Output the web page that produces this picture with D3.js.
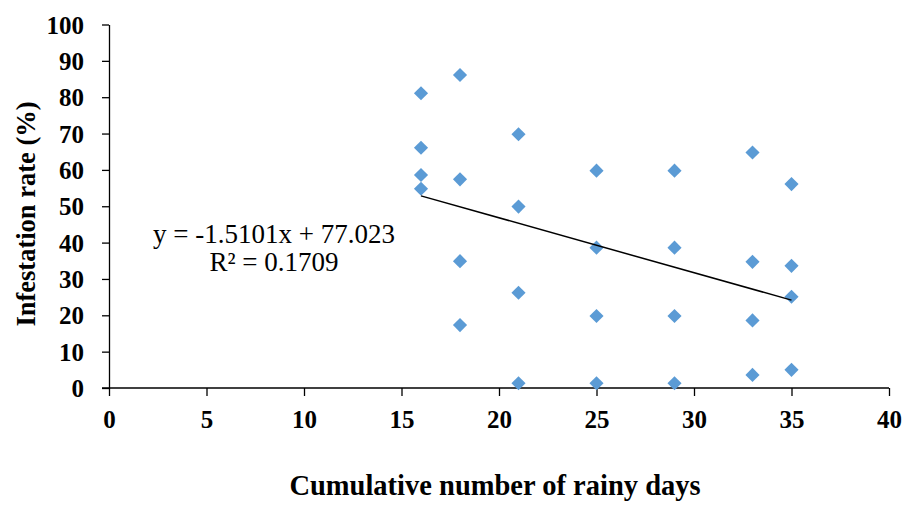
<!DOCTYPE html>
<html>
<head>
<meta charset="utf-8">
<script src="https://cdn.jsdelivr.net/npm/d3@7"></script>
<style>
  body { margin: 0; background: #fff; }
  svg { display: block; font-family: "Liberation Serif", "Times New Roman", serif; }
</style>
</head>
<body>
<svg width="903" height="505"></svg>
<script>
// rainy days (x) and infestation rate (y)
const rainyDays = [16, 16, 16, 16, 18, 18, 18, 18, 21, 21, 21, 21, 25, 25, 25, 25,
                   29, 29, 29, 29, 33, 33, 33, 33, 35, 35, 35, 35];
const infestation = [81.1, 66.1, 58.6, 54.8, 86.1, 57.4, 34.9, 17.3, 69.8, 49.9, 26.2, 1.3,
                     59.8, 38.6, 19.8, 1.3, 59.8, 38.6, 19.8, 1.3, 64.8, 34.7, 18.6, 3.6,
                     56.1, 33.6, 25.1, 5.0];
const xTicks = [0, 5, 10, 15, 20, 25, 30, 35, 40];
const yTicks = [0, 10, 20, 30, 40, 50, 60, 70, 80, 90, 100];
const slope = -1.5101, intercept = 77.023;
const eqLines = ["y = -1.5101x + 77.023", "R\u00b2 = 0.1709"];

const points = rainyDays.map((d, i) => ({ x: d, y: infestation[i] }));

const svg = d3.select("svg");
const margin = { top: 24.5, right: 14, bottom: 117, left: 109 };
const width = +svg.attr("width");
const height = +svg.attr("height");

const x = d3.scaleLinear().domain([0, 40]).range([margin.left, width - margin.right]);
const y = d3.scaleLinear().domain([0, 100]).range([height - margin.bottom, margin.top]);

// y axis
const yAxis = svg.append("g")
    .attr("transform", `translate(${x(0)},0)`)
    .call(d3.axisLeft(y).tickValues(yTicks).tickSize(7).tickPadding(18).tickSizeOuter(0));
yAxis.select(".domain").attr("stroke", "#000").attr("stroke-width", 1.3);
yAxis.selectAll(".tick line").attr("stroke", "#000").attr("stroke-width", 1.3);
yAxis.selectAll("text")
    .attr("fill", "#000")
    .attr("font-size", 25)
    .attr("font-weight", "bold")
    .attr("font-family", "Liberation Serif, Times New Roman, serif")
    .attr("dy", "0.34em");

// x axis
const xAxis = svg.append("g")
    .attr("transform", `translate(0,${y(0)})`)
    .call(d3.axisBottom(x).tickValues(xTicks).tickSize(8).tickPadding(14).tickSizeOuter(0));
xAxis.select(".domain").attr("stroke", "#000").attr("stroke-width", 1.3)
    .attr("d", `M${x(0) - 7},0H${x(40)}`);
xAxis.selectAll(".tick line").attr("stroke", "#000").attr("stroke-width", 1.3);
xAxis.selectAll("text")
    .attr("fill", "#000")
    .attr("font-size", 25)
    .attr("font-weight", "bold")
    .attr("font-family", "Liberation Serif, Times New Roman, serif");

// markers
const diamond = d3.symbol(d3.symbolSquare, 100);
svg.append("g")
  .selectAll("path")
  .data(points)
  .join("path")
    .attr("d", diamond)
    .attr("transform", d => `translate(${x(d.x)},${y(d.y)}) rotate(45)`)
    .attr("fill", "#5B9BD5");

// linear trendline
const xMin = d3.min(rainyDays), xMax = d3.max(rainyDays);
svg.append("line")
    .attr("x1", x(xMin)).attr("y1", y(slope * xMin + intercept))
    .attr("x2", x(xMax)).attr("y2", y(slope * xMax + intercept))
    .attr("stroke", "#000")
    .attr("stroke-width", 1.5);

// equation label
svg.append("text")
    .attr("y", 243)
    .attr("text-anchor", "middle")
    .attr("font-size", 27)
    .attr("fill", "#000")
  .selectAll("tspan")
  .data(eqLines)
  .join("tspan")
    .attr("x", 274)
    .attr("dy", (d, i) => i ? 28 : 0)
    .text(d => d);

// axis titles
svg.append("text")
    .attr("transform", `translate(35,214) rotate(-90)`)
    .attr("text-anchor", "middle")
    .attr("font-size", 26.5)
    .attr("font-weight", "bold")
    .text("Infestation rate (%)");

svg.append("text")
    .attr("x", 495)
    .attr("y", 495)
    .attr("text-anchor", "middle")
    .attr("font-size", 28.5)
    .attr("font-weight", "bold")
    .text("Cumulative number of rainy days");
</script>
</body>
</html>
